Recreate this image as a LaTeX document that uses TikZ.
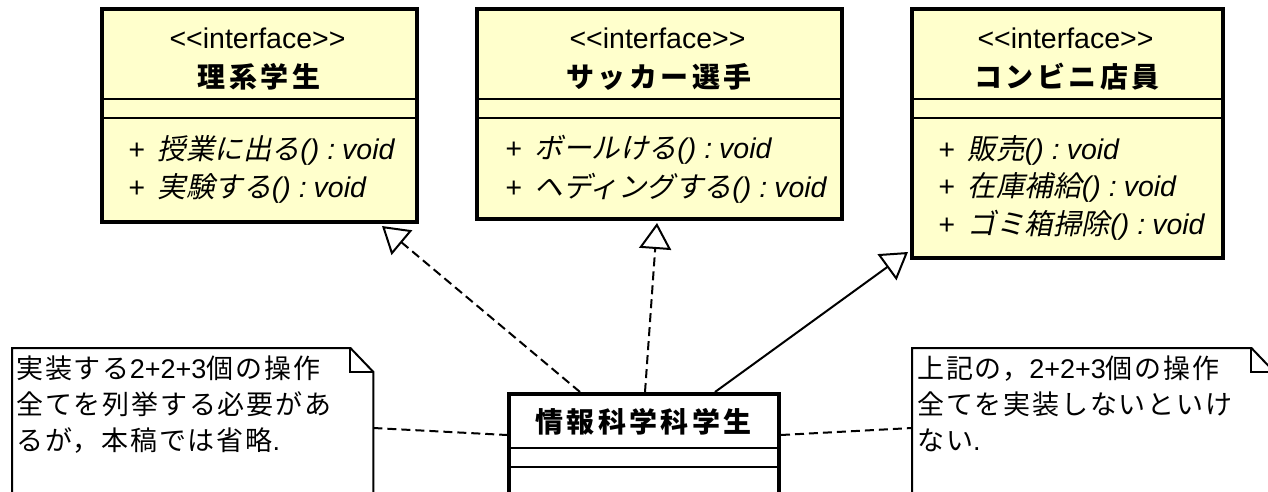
\documentclass[tikz,border=0pt]{standalone}
\usepackage{fontspec}
\setmainfont{Liberation Sans}[Ligatures=NoCommon]
\newfontfamily\jp{Noto Sans CJK JP}[AutoFakeSlant=0.21]
\usetikzlibrary{arrows.meta,calc}
\definecolor{boxfill}{RGB}{255,255,204}
\newcommand\op[1]{+\hspace{13pt}{\jp\itshape #1}()\hspace{8pt}:\hspace{7pt}void}
\newcommand\lat[1]{{\rmfamily #1}}
\newcommand\stereotxt{{<}{<}interface{>}{>}}
\begin{document}
\begin{tikzpicture}[x=1pt,y=-1pt,
  ifbox/.style={draw, line width=4pt, fill=boxfill, anchor=north west, inner sep=0pt},
  clsbox/.style={draw, line width=4pt, fill=white, anchor=north west, inner sep=0pt},
  sepline/.style={line width=2pt},
  notebox/.style={anchor=north west, inner sep=0pt},
  noteline/.style={line width=2pt},
  stereo/.style={inner sep=0pt, font=\fontsize{28.5}{32}\selectfont},
  cname/.style={inner sep=0pt, font=\fontsize{28}{32}\selectfont\jp\bfseries\addfontfeature{LetterSpace=12}},
  optext/.style={anchor=west, inner sep=0pt, font=\fontsize{28.5}{32}\selectfont\itshape},
  notetext/.style={anchor=north west, inner sep=0pt, align=left, font=\fontsize{27}{36}\selectfont\jp\addfontfeature{LetterSpace=7}},
  realize/.style={line width=2pt, dash pattern=on 9pt off 5pt, -{Triangle[open,length=26pt,width=32pt]}},
  generalize/.style={line width=2pt, -{Triangle[open,length=26pt,width=32pt]}},
  notelink/.style={line width=2pt, dash pattern=on 9pt off 5pt}
]
\useasboundingbox (0,0) rectangle (1268,492);
\clip (0,0) rectangle (1268,492);

% interface boxes
\node[ifbox, minimum width=315pt, minimum height=213pt] (b1) at (100,7) {};
\node[ifbox, minimum width=365pt, minimum height=210pt] (b2) at (475,7) {};
\node[ifbox, minimum width=311pt, minimum height=249pt] (b3) at (910,7) {};
\foreach \b in {b1,b2,b3}{
  \draw[sepline] ($(\b.north west)+(0,92)$) -- ($(\b.north east)+(0,92)$);
  \draw[sepline] ($(\b.north west)+(0,111)$) -- ($(\b.north east)+(0,111)$);
}
\node[stereo] (s1) at (257.5,38) {\stereotxt};
\node[cname] (m1) at (259,77) {理系学生};
\node[optext] (o11) at (128,150) {\op{授業に出る}};
\node[optext] (o12) at (128,188) {\op{実験する}};

\node[stereo] (s2) at (657.5,38) {\stereotxt};
\node[cname] (m2) at (659,77) {サッカー選手};
\node[optext] (o21) at (505,150) {\op{ボールける}};
\node[optext] (o22) at (505,188) {\op{ヘディングする}};

\node[stereo] (s3) at (1065.5,38) {\stereotxt};
\node[cname] (m3) at (1067,77) {コンビニ店員};
\node[optext] (o31) at (938,150) {\op{販売}};
\node[optext] (o32) at (938,187) {\op{在庫補給}};
\node[optext] (o33) at (938,225) {\op{ゴミ箱掃除}};

% class box
\node[clsbox, minimum width=270pt, minimum height=140pt] (c) at (507,392) {};
\draw[sepline] ($(c.north west)+(0,56)$) -- ($(c.north east)+(0,56)$);
\draw[sepline] ($(c.north west)+(0,75)$) -- ($(c.north east)+(0,75)$);
\node[cname] (cn) at (643.5,422) {情報科学科学生};

% notes
\node[notebox, minimum width=361pt, minimum height=170pt] (n1) at (12,348) {};
\node[notebox, minimum width=362pt, minimum height=170pt] (n2) at (912,348) {};
\foreach \n in {n1,n2}{
  \draw[noteline] (\n.south west) -- (\n.north west) -- ($(\n.north east)+(-23,0)$)
     -- ($(\n.north east)+(0,24)$) -- (\n.south east);
  \draw[noteline] ($(\n.north east)+(-23,0)$) -- ($(\n.north east)+(-23,24)$) -- ($(\n.north east)+(0,24)$);
}
\node[notetext] (t1) at (16,356) {実装する\lat{2+2+3}個の操作\\全てを列挙する必要があ\\るが，本稿では省略\lat{.}};
\node[notetext] (t2) at (917,356) {上記の，\lat{2+2+3}個の操作\\全てを実装しないといけ\\ない\lat{.}};

% connectors
\draw[realize] ($(c.north west)+(73,0)$) -- ($(b1.south west)+(282,2)$);
\draw[realize] ($(c.north west)+(138,0)$) -- ($(b2.south west)+(182,2)$);
\draw[generalize] ($(c.north west)+(208,0)$) -- ($(b3.south west)+(-2,-8)$);
\draw[notelink] ($(n1.north east)+(0,80)$) -- ($(c.north west)+(0,43)$);
\draw[notelink] ($(c.north east)+(0,43)$) -- ($(n2.north west)+(0,80)$);
\end{tikzpicture}
\end{document}
